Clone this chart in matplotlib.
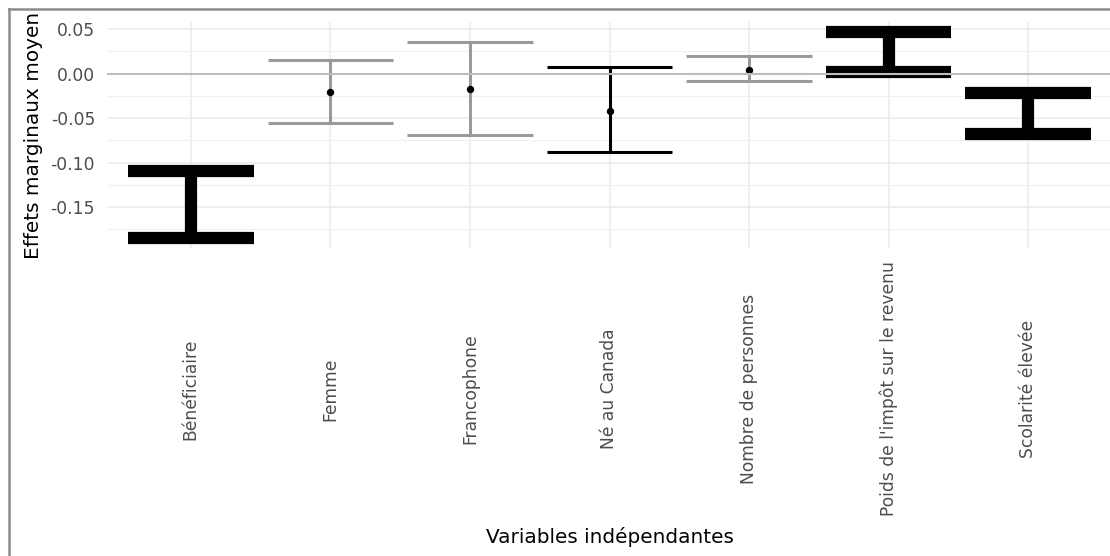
import numpy as np
import matplotlib
matplotlib.use("Agg")
import matplotlib.pyplot as plt
from matplotlib.lines import Line2D

categories = ["Bénéficiaire", "Femme", "Francophone", "Né au Canada",
              "Nombre de personnes", "Poids de l'impôt sur le revenu", "Scolarité élevée"]
estimate = [-0.1475, -0.021, -0.017, -0.042, 0.0045, 0.0245, -0.045]
ci_low = [-0.185, -0.0558, -0.0685, -0.0884, -0.0087, 0.002, -0.068]
ci_high = [-0.110, 0.0157, 0.036, 0.0073, 0.020, 0.047, -0.022]
# 0 = non significatif (gris), 1 = significatif (noir fin), 2 = très significatif (noir épais)
signif = [2, 0, 0, 1, 0, 2, 2]

colors = {0: "#9a9a9a", 1: "black", 2: "black"}
widths = {0: 2.2, 1: 2.2, 2: 8.8}

plt.rcParams['font.family'] = ['DejaVu Sans']

fig = plt.figure(figsize=(11.1, 5.56), dpi=100)
W, H = 1110, 556
ax = fig.add_axes([107 / W, 1 - 248 / H, 1005 / W, 226 / H])

x = np.arange(len(categories))
for xi, lo, hi, est, s in zip(x, ci_low, ci_high, estimate, signif):
    c = colors[s]
    lw = widths[s]
    ax.vlines(xi, lo, hi, color=c, lw=lw, zorder=3)
    ax.hlines([lo, hi], xi - 0.45, xi + 0.45, color=c, lw=lw, zorder=3)
    ax.plot(xi, est, 'o', color='black', ms=4.3, zorder=4)

ax.axhline(0, color="#bdbdbd", lw=1.5, zorder=5)

ax.set_xlim(-0.6, len(categories) - 0.4)
ax.set_ylim(-0.196, 0.058)
ax.set_yticks([-0.15, -0.10, -0.05, 0.00, 0.05])
ax.set_yticklabels(["-0.15", "-0.10", "-0.05", "0.00", "0.05"])
ax.set_yticks([-0.175, -0.125, -0.075, -0.025, 0.025], minor=True)
ax.set_xticks(x)
ax.set_xticklabels(categories, rotation=90, va='center', ha='center')

ax.grid(which='major', color="#ebebeb", lw=1.1)
ax.grid(which='minor', axis='y', color="#f0f0f0", lw=0.8)
ax.set_axisbelow(True)
for sp in ax.spines.values():
    sp.set_visible(False)

ax.tick_params(axis='x', length=0, pad=101.5, labelsize=12.3, labelcolor="#4d4d4d")
ax.tick_params(axis='y', which='both', length=0, pad=8.6, labelsize=12.3, labelcolor="#4d4d4d")

ax.set_ylabel("Effets marginaux moyen", fontsize=14.4, va='center')
ax.yaxis.set_label_coords((34 - 107) / 1005, 0.5)
ax.set_xlabel("Variables indépendantes", fontsize=14.4, va='center')
ax.xaxis.set_label_coords(0.5, (248 - 537) / 226)

# cadre gris de la capture
fig.add_artist(Line2D([8.5 / W, 8.5 / W], [0, 1 - 8.5 / H], color="#8c8c8c", lw=1.8))
fig.add_artist(Line2D([8.5 / W, 1], [1 - 8.5 / H, 1 - 8.5 / H], color="#8c8c8c", lw=1.8))

fig.savefig("out.png", dpi=100, facecolor="white")
